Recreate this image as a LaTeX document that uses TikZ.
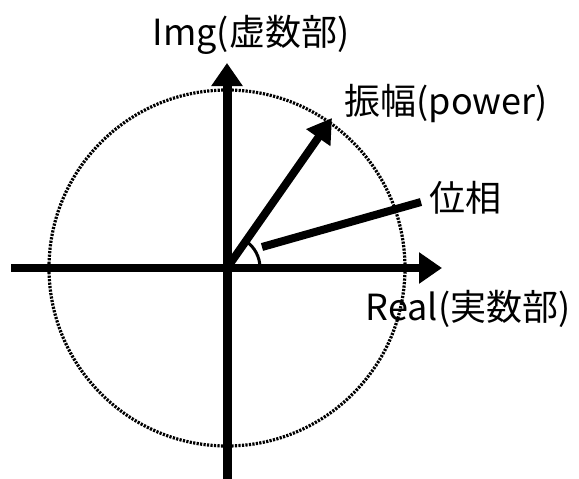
\documentclass[tikz,border=0pt]{standalone}
\usepackage{fontspec}
\setmainfont{Noto Sans CJK JP}
\usetikzlibrary{arrows.meta,calc}
\begin{document}
\begin{tikzpicture}[x=1pt,y=-1pt,
  axis/.style={line width=8.5pt,-{Triangle[length=23pt,width=30pt]}},
  vec/.style={line width=8pt,-{Triangle[length=24pt,width=28pt]}},
  lbl/.style={font=\fontsize{36}{39}\selectfont,inner sep=0pt}]
\useasboundingbox (0,0) rectangle (579,479);
\coordinate (O) at (227,268);
\draw[line width=3.2pt,dash pattern=on 2.2pt off 1.3pt,black] (O) circle (178);
\coordinate (xs) at (11,268);
\coordinate (xe) at (442,268);
\coordinate (ys) at (227,479);
\coordinate (ye) at (227,63);
\draw[axis] (xs) -- (xe);
\draw[axis,line width=9pt] (ys) -- (ye);
\coordinate (P) at (332,118);
\draw[vec] (O) -- (P);
\coordinate (ph1) at (262,247);
\coordinate (ph2) at (421,202);
\draw[line width=8pt] (ph1) -- (ph2);
\draw[line width=3pt] ($(O)+(33,0)$) arc[start angle=0,end angle=-55,radius=33];
\node[lbl] (img) at (251,35) {Img(虚数部)};
\node[lbl] (pw) at (446,104) {振幅(power)};
\node[lbl] (ph) at (465,198) {位相};
\node[lbl] (re) at (468,309) {Real(実数部)};
\end{tikzpicture}
\end{document}
